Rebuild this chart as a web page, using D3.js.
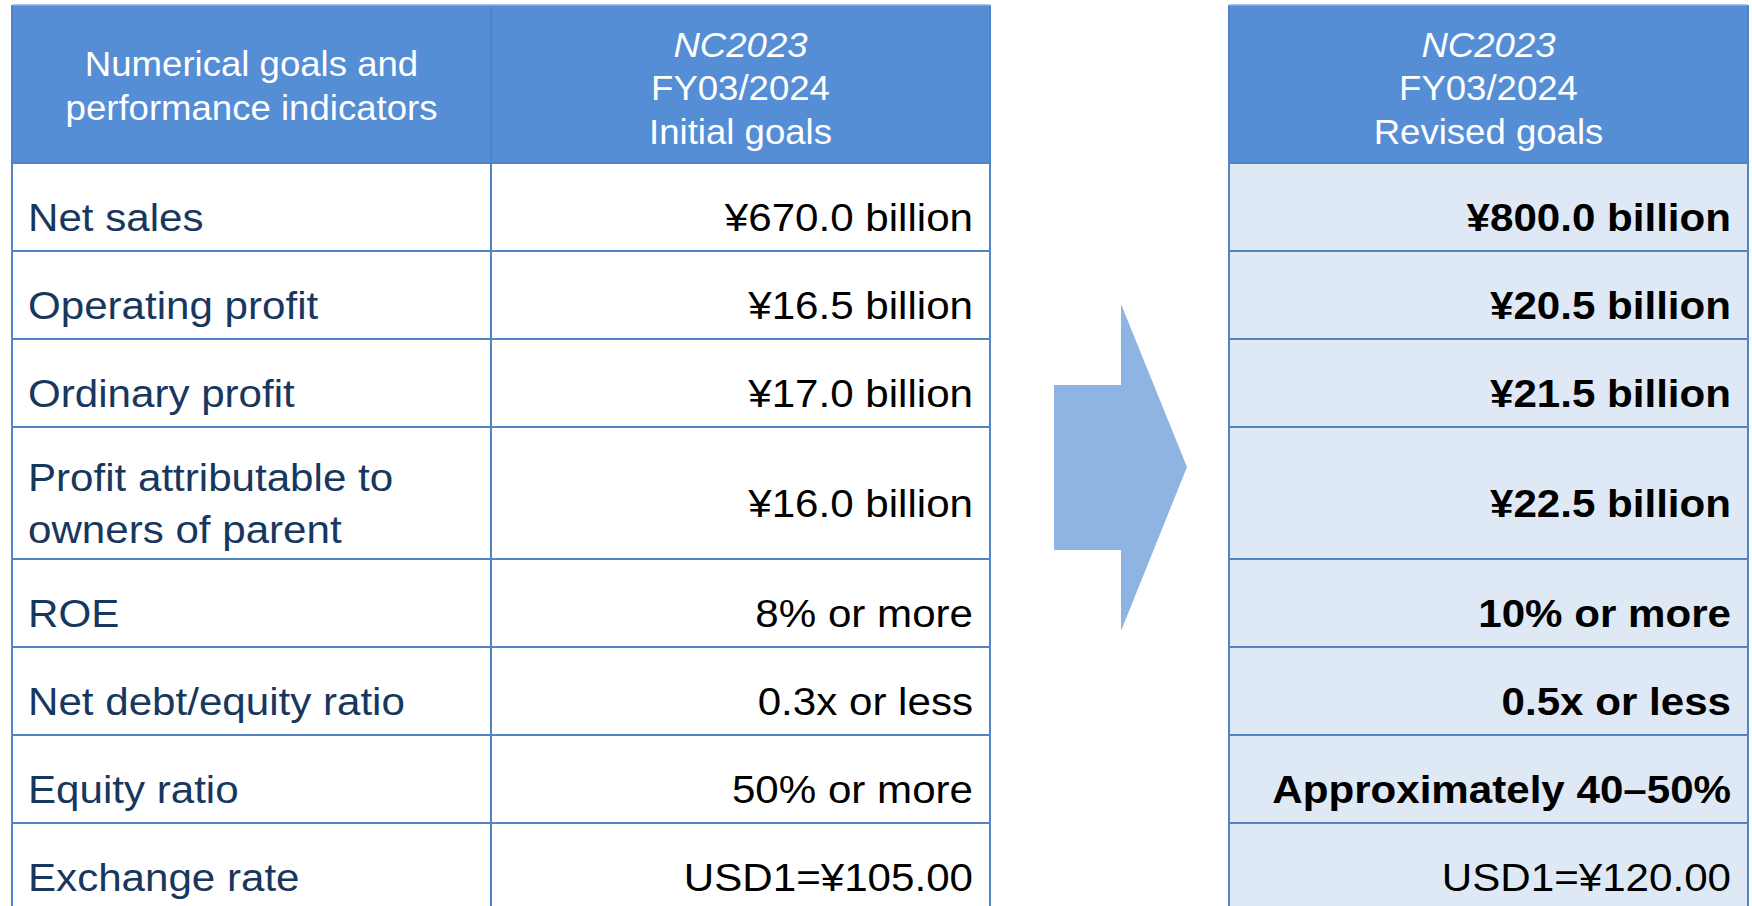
<!DOCTYPE html>
<html>
<head>
<meta charset="utf-8">
<script src="https://cdn.jsdelivr.net/npm/d3@7"></script>
<style>
  html, body { margin: 0; padding: 0; background: #fff; }
  svg { display: block; font-family: "Liberation Sans", Arimo, Arial, sans-serif; }
</style>
</head>
<body>
<svg width="1752" height="906"></svg>
<script>
// table content
var indicators = ["Net sales", "Operating profit", "Ordinary profit", "Profit attributable to|owners of parent",
    "ROE", "Net debt/equity ratio", "Equity ratio", "Exchange rate"];
var initialGoals = ["¥670.0 billion", "¥16.5 billion", "¥17.0 billion", "¥16.0 billion",
    "8% or more", "0.3x or less", "50% or more", "USD1=¥105.00"];
var revisedGoals = ["¥800.0 billion", "¥20.5 billion", "¥21.5 billion", "¥22.5 billion",
    "10% or more", "0.5x or less", "Approximately 40–50%", "USD1=¥120.00"];
var revisedBold = [true, true, true, true, true, true, true, false];
var rowUnits = [1, 1, 1, 1.5, 1, 1, 1, 1];

var headerLeft = ["Numerical goals and", "performance indicators"];
var headerInitial = ["NC2023", "FY03/2024", "Initial goals"];
var headerRevised = ["NC2023", "FY03/2024", "Revised goals"];

var colors = {
    header: "#558ED5",
    border: "#5283C4",
    revisedFill: "#DFE9F6",
    arrow: "#8EB4E3",
    label: "#17375E",
    value: "#000000"
};

var svg = d3.select("svg");

var headerTop = 5, headerBottom = 163, unitHeight = 88;
var leftCols = [12, 491, 990];
var rightCols = [1229, 1748];

// cumulative row positions
var cum = [0];
rowUnits.forEach(function(u, i) { cum.push(cum[i] + u); });
var y = d3.scaleLinear()
    .domain([0, cum[cum.length - 1]])
    .range([headerBottom, headerBottom + cum[cum.length - 1] * unitHeight]);

var rows = indicators.map(function(d, i) {
    return {
        label: d.split("|"),
        initial: initialGoals[i],
        revised: revisedGoals[i],
        bold: revisedBold[i],
        y0: y(cum[i]),
        y1: y(cum[i + 1])
    };
});

var bodyOpts = { size: 39, stretch: 1.08, lineGap: 51.7, shift: 24 };
var headOpts = { size: 35, stretch: 1.045, lineGap: 43.5, shift: 16 };

function textLines(g, lines, x, cy, anchor, base, opts) {
    var n = lines.length;
    lines.forEach(function(t, i) {
        var by = cy + base.shift + (i - (n - 1) / 2) * base.lineGap;
        g.append("text")
            .attr("transform", "translate(" + x + "," + by + ") scale(" + base.stretch + ",1)")
            .attr("text-anchor", anchor)
            .attr("font-size", base.size)
            .attr("font-weight", opts.bold ? "bold" : "normal")
            .attr("font-style", opts.italic && opts.italic(i) ? "italic" : "normal")
            .attr("fill", opts.fill)
            .text(t);
    });
}

// ---- left table ----
var left = svg.append("g");

left.append("rect")
    .attr("x", leftCols[0]).attr("y", headerTop)
    .attr("width", leftCols[2] - leftCols[0]).attr("height", headerBottom - headerTop)
    .attr("fill", colors.header);

left.selectAll(".rowbg").data(rows).enter().append("rect")
    .attr("x", leftCols[0]).attr("y", function(d) { return d.y0; })
    .attr("width", leftCols[2] - leftCols[0])
    .attr("height", function(d) { return d.y1 - d.y0; })
    .attr("fill", "#fff");

var headCy = (headerTop + headerBottom) / 2;
var leftHeadOpts = Object.assign({}, headOpts, { shift: 14 });
textLines(left, headerLeft, (leftCols[0] + leftCols[1]) / 2, headCy, "middle", leftHeadOpts, { fill: "#fff" });
textLines(left, headerInitial, (leftCols[1] + leftCols[2]) / 2, headCy, "middle", headOpts,
    { fill: "#fff", italic: function(i) { return i === 0; } });

rows.forEach(function(r) {
    var cy = (r.y0 + r.y1) / 2;
    textLines(left, r.label, leftCols[0] + 16, cy, "start", bodyOpts, { fill: colors.label });
    textLines(left, [r.initial], leftCols[2] - 17, cy, "end", bodyOpts, { fill: colors.value });
});

// grid lines
var hLines = [headerBottom].concat(rows.map(function(r) { return r.y1; }));
left.selectAll(".hl").data(hLines).enter().append("line")
    .attr("x1", leftCols[0]).attr("x2", leftCols[2])
    .attr("y1", function(d) { return d; }).attr("y2", function(d) { return d; })
    .attr("stroke", colors.border).attr("stroke-width", 2);
left.selectAll(".vl").data(leftCols).enter().append("line")
    .attr("x1", function(d) { return d; }).attr("x2", function(d) { return d; })
    .attr("y1", headerTop).attr("y2", 906)
    .attr("stroke", colors.border).attr("stroke-width", 2);
left.append("line")
    .attr("x1", leftCols[0]).attr("x2", leftCols[2])
    .attr("y1", headerTop).attr("y2", headerTop)
    .attr("stroke", "#8FB0DC").attr("stroke-width", 1.5);

// ---- right table ----
var right = svg.append("g");

right.append("rect")
    .attr("x", rightCols[0]).attr("y", headerTop)
    .attr("width", rightCols[1] - rightCols[0]).attr("height", headerBottom - headerTop)
    .attr("fill", colors.header);

right.selectAll(".rowbg").data(rows).enter().append("rect")
    .attr("x", rightCols[0]).attr("y", function(d) { return d.y0; })
    .attr("width", rightCols[1] - rightCols[0])
    .attr("height", function(d) { return d.y1 - d.y0; })
    .attr("fill", colors.revisedFill);

textLines(right, headerRevised, (rightCols[0] + rightCols[1]) / 2, headCy, "middle", headOpts,
    { fill: "#fff", italic: function(i) { return i === 0; } });

rows.forEach(function(r) {
    var cy = (r.y0 + r.y1) / 2;
    textLines(right, [r.revised], rightCols[1] - 17, cy, "end", bodyOpts, { fill: colors.value, bold: r.bold });
});

right.selectAll(".hl").data(hLines).enter().append("line")
    .attr("x1", rightCols[0]).attr("x2", rightCols[1])
    .attr("y1", function(d) { return d; }).attr("y2", function(d) { return d; })
    .attr("stroke", colors.border).attr("stroke-width", 2);
right.selectAll(".vl").data(rightCols).enter().append("line")
    .attr("x1", function(d) { return d; }).attr("x2", function(d) { return d; })
    .attr("y1", headerTop).attr("y2", 906)
    .attr("stroke", colors.border).attr("stroke-width", 2);
right.append("line")
    .attr("x1", rightCols[0]).attr("x2", rightCols[1])
    .attr("y1", headerTop).attr("y2", headerTop)
    .attr("stroke", "#8FB0DC").attr("stroke-width", 1.5);

// ---- arrow between tables ----
var arrowPts = [[1054, 385], [1121, 385], [1121, 304], [1187, 467], [1121, 631], [1121, 550], [1054, 550]];
svg.append("path")
    .attr("d", d3.line()(arrowPts) + "Z")
    .attr("fill", colors.arrow);
</script>
</body>
</html>
